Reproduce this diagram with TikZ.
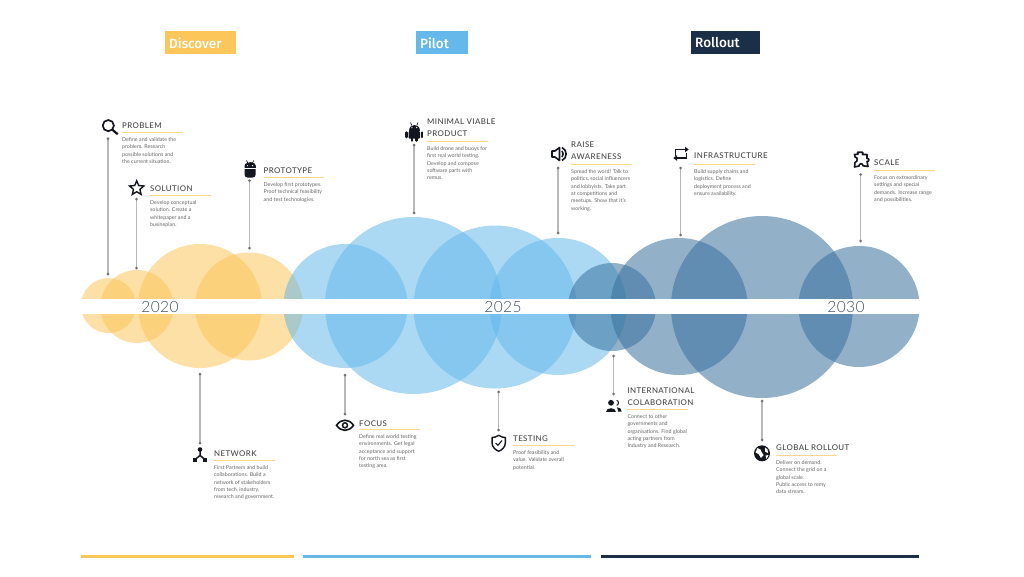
\documentclass[tikz,border=0pt]{standalone}
\usepackage{fontspec}
\usetikzlibrary{shapes.geometric}
\setmainfont{Lato}
\newfontfamily\headfont[LetterSpace=5]{Lato Medium}
\newfontfamily\yearfont[LetterSpace=3]{Lato Light}
\newfontfamily\badgefont{Fira Sans Medium}
\definecolor{ylw}{HTML}{FCC659}
\definecolor{blu}{HTML}{65B9EA}
\definecolor{drk}{HTML}{37709D}
\definecolor{navy}{HTML}{1C2F48}
\definecolor{ink}{HTML}{14161F}
\definecolor{uline}{HTML}{FCD98A}
\tikzset{
 bub/.style={fill=#1,fill opacity=.54},
 headtxt/.style={font=\headfont\fontsize{7.9}{11.6}\selectfont,text=black!72,anchor=south west,inner sep=0,align=left},
 bodytxt/.style={font=\fontsize{5.3}{7.4}\selectfont,text=black!60,anchor=north west,inner sep=0,align=left},
 rule/.style={draw=uline,line width=1.5pt},
 stem/.style={draw=black!28,line width=1.2pt},
 enddot/.style={circle,fill=black!55,minimum size=3pt,inner sep=0},
 yeartxt/.style={font=\yearfont\fontsize{15.5}{15.5}\selectfont,text=navy!85},
 ico/.style={draw=ink,line width=1.4pt,fill=none},
 badgetxt/.style={text=white,font=\badgefont\fontsize{13.5}{13.5}\selectfont,anchor=west,inner sep=0},
 bar/.style={line width=3pt},
}
\newcommand{\entry}[6]{% name, x, underline y, head gap, head, body
 \coordinate (#1ua) at (#2,#3); \coordinate (#1ub) at (#2+60.5,#3);
 \node[headtxt] (#1h) at (#2,#3-#4+7-3.2) {#5};
 \node[bodytxt] (#1b) at (#2,#3+4.6) {#6};
 \draw[rule] (#1ua) -- (#1ub);
}
\newcommand{\stemline}[4]{% name, x, y1, y2
 \draw[stem] (#2,#3) -- (#2,#4);
 \node[enddot] (#1s) at (#2,#3) {};
 \node[enddot] (#1e) at (#2,#4) {};
}
\begin{document}
\begin{tikzpicture}[x=1pt,y=-1pt]
\useasboundingbox (0,0) rectangle (1024,576);
\fill[white] (0,0) rectangle (1024,576);
% bubbles
\foreach \n/\cx/\cy/\r/\c in {
 y1/108.5/305.5/27.5/ylw, y2/137/306.5/36.5/ylw, y3/200/306/62/ylw, y4/249/306.5/54/ylw,
 b1/345.5/306/62/blu, b2/413.5/305.5/88.5/blu, b3/495/307/81.5/blu, b4/558/306.5/68.5/blu,
 d1/612/307/44/drk, d2/679/306.5/68.5/drk, d3/762/307/91/drk, d4/859/306.5/60.5/drk}{
 \fill[bub=\c] (\cx,\cy) circle (\r);
}
\fill[white] (0,299) rectangle (1024,314.3);
\fill[white] (919.3,200) rectangle (1024,400);
% years
\node[yeartxt] (y20) at (160,307) {2020};
\node[yeartxt] (y25) at (503,307) {2025};
\node[yeartxt] (y30) at (846,307) {2030};
% badges
\fill[ylw] (165,31) rectangle (236,54);
\fill[blu] (416,31) rectangle (468,54);
\fill[navy] (691,31) rectangle (760,54);
\node[badgetxt] (bd) at (169,43) {Discover};
\node[badgetxt] (bp) at (420,43) {Pilot};
\node[badgetxt] (br) at (695,43) {Rollout};
% bottom bars
\coordinate (ba1) at (81,556.5); \coordinate (ba2) at (294,556.5);
\coordinate (bb1) at (303,556.5); \coordinate (bb2) at (591,556.5);
\coordinate (bc1) at (601,556.5); \coordinate (bc2) at (919,556.5);
\draw[bar,draw=ylw] (ba1) -- (ba2);
\draw[bar,draw=blu] (bb1) -- (bb2);
\draw[bar,draw=navy] (bc1) -- (bc2);
% stems
\stemline{pb}{108}{138.5}{274}
\stemline{so}{136.5}{199}{268}
\stemline{pt}{249.5}{180.5}{248}
\stemline{mv}{414}{145}{213}
\stemline{ra}{558}{168}{233}
\stemline{in}{680.7}{168}{235}
\stemline{sc}{860.7}{174.5}{241}
\stemline{nw}{200}{374}{443}
\stemline{fo}{345}{375}{414}
\stemline{te}{498.7}{392}{430}
\stemline{ic}{613.7}{356}{394}
\stemline{gl}{762}{401}{440}
% texts
\entry{pb}{122}{132.5}{7.8}{PROBLEM}{Define and validate the\\problem. Research\\possible solutions and\\the current situation.}
\entry{so}{150}{195.5}{7.5}{SOLUTION}{Develop conceptual\\solution. Create a\\whitepaper and a\\busineplan.}
\entry{pt}{263.5}{177.5}{7.5}{PROTOTYPE}{Develop first prototypes.\\Proof technical feasibility\\and test technologies.}
\entry{mv}{427}{141.5}{8.5}{MINIMAL VIABLE\\PRODUCT}{Build drone and buoys for\\first real world testing.\\Develop and compose\\software parts with\\remus.}
\entry{ra}{571}{164.5}{8.5}{RAISE\\AWARENESS}{Spread the word! Talk to\\politics, social influencers\\and lobbyists. Take part\\at competitions and\\meetups. Show that it's\\working.}
\entry{in}{694}{164.5}{9.5}{INFRASTRUCTURE}{Build supply chains and\\logistics. Define\\deployment process and\\ensure availability.}
\entry{sc}{874}{170.5}{8.5}{SCALE}{Focus on extraordinary\\settings and special\\demands. Increase range\\and possibilities.}
\entry{nw}{214}{460.5}{7.5}{NETWORK}{First Partners and build\\collaborations. Build a\\network of stakeholders\\from tech, industry,\\research and government.}
\entry{fo}{359}{429.5}{6.8}{FOCUS}{Define real world testing\\environments. Get legal\\acceptance and support\\for north sea as first\\testing area.}
\entry{te}{513}{445.5}{7.5}{TESTING}{Proof feasibility and\\value. Validate overall\\potential.}
\entry{ic}{627.3}{409.5}{7.8}{INTERNATIONAL\\COLABORATION}{Connect to other\\governments and\\organisations. Find global\\acting partners from\\Industry and Research.}
\entry{gl}{776}{455.5}{8.5}{GLOBAL ROLLOUT}{Deliver on demand.\\Connect the grid on a\\global scale.\\Public access to remy\\data stream.}
% icons: magnifier
\draw[ico,line width=1.7pt] (108.3,125.6) circle (5.6);
\draw[ico,line width=2.2pt] (112.3,129.6) -- (117.7,134.3);
% star
\node[star,star points=5,star point ratio=2.2,draw=ink,line width=1.4pt,minimum size=15pt,inner sep=0] (istar) at (136.7,188.3) {};
% android head
\fill[ink,rounded corners=3pt] (244.5,163) rectangle (255.7,177.5);
\fill[ink] (244.5,168) .. controls (244.5,160) and (255.7,160) .. (255.7,168) -- cycle;
\draw[ink,line width=.7pt] (246.5,160.5) -- (248,163.5) (253.7,160.5) -- (252.2,163.5);
\draw[white,line width=.6pt] (244,168.6) -- (256.2,168.6);
\fill[white] (247.5,165.7) circle (.7) (252.7,165.7) circle (.7);
% android full
\fill[ink] (408.6,130.5) .. controls (408.6,123.2) and (420,123.2) .. (420,130.5) -- cycle;
\draw[ink,line width=.7pt] (410.5,122.5) -- (411.8,125.5) (418,122.5) -- (416.8,125.5);
\fill[white] (411.9,127.6) circle (.65) (416.7,127.6) circle (.65);
\fill[ink,rounded corners=1pt] (408.6,131.1) rectangle (420,138.7);
\draw[ink,line width=2.5pt,line cap=round] (406.4,132.5) -- (406.4,137) (422.2,132.5) -- (422.2,137) (412,138) -- (412,140.6) (416.6,138) -- (416.6,140.6);
% speaker
\draw[ico,line join=round,line width=1.6pt] (552,151) -- (555,151) -- (559.5,147.5) -- (559.5,160.5) -- (555,157) -- (552,157) -- cycle;
\draw[ico,line width=1.6pt] (562,151) .. controls (563.5,152.5) and (563.5,155.5) .. (562,157);
\draw[ico,line width=1.6pt] (562,147.5) .. controls (567.5,150) and (567.5,158) .. (562,160.5);
% repeat arrows
\draw[ico,line width=1.5pt] (675.5,155.5) -- (675.5,149.5) -- (686,149.5);
\fill[ink] (685,146.7) -- (688.7,149.5) -- (685,152.3) -- cycle;
\draw[ico,line width=1.5pt] (686.5,152.5) -- (686.5,158) -- (676,158);
\fill[ink] (677,155.2) -- (673.3,158) -- (677,160.8) -- cycle;
% puzzle
\draw[ico,line join=round,line width=1.6pt] (855,157) -- (854.5,154.5) -- (858,154.3) .. controls (856.5,151.5) and (858.5,152.2) .. (860,152.2) .. controls (862,152.2) and (863.5,151.5) .. (862.5,154.5) -- (867,154.5) -- (867,158.5) .. controls (869.5,157.5) and (869.5,162) .. (867,161.5) -- (868,166.5) -- (863,165.8) .. controls (863,163) and (859,163) .. (859,166) -- (854.5,167) -- (855,162.5) .. controls (858,161.5) and (858,157) .. (855,157) -- cycle;
% network
\draw[ink,line width=1.5pt] (200,450.5) -- (200,455.5) -- (195,459.5) (200,455.5) -- (205,459.5);
\fill[ink] (200,449.5) circle (2.3);
\fill[ink] (193,458) rectangle (197,462);
\fill[ink] (203,458) rectangle (207,462);
% eye
\draw[ico,line width=1.6pt] (336.5,425.3) .. controls (341,418.5) and (349,418.5) .. (353.5,425.3) .. controls (349,432) and (341,432) .. (336.5,425.3) -- cycle;
\draw[ico,line width=1.5pt] (345,425.3) circle (2.5);
% shield
\draw[ico,line join=round,line width=1.4pt] (498.7,435.3) .. controls (501,437) and (503.5,437.5) .. (505.3,437.5) -- (505.3,443) .. controls (505.3,447) and (502,450) .. (498.7,451.2) .. controls (495.4,450) and (492.1,447) .. (492.1,443) -- (492.1,437.5) .. controls (493.9,437.5) and (496.4,437) .. (498.7,435.3) -- cycle;
\draw[ink,line width=1.1pt] (495.6,443) -- (497.9,445.3) -- (502,440.5);
% people
\fill[ink] (611,402.8) circle (2.9);
\draw[ink,line width=1pt] (616.7,400.3) .. controls (619,400.8) and (619,404.8) .. (616.7,405.3);
\fill[ink] (605.5,411.7) .. controls (605.5,407) and (616,407) .. (616,411.7) -- cycle;
\fill[ink] (617,407.3) .. controls (620,407.3) and (621.7,409) .. (621.7,411.7) -- (618,411.7) .. controls (618,410) and (617.5,408.5) .. (617,407.3) -- cycle;
% globe
\fill[ink] (762,453.3) circle (8);
\fill[white] (757.5,448) .. controls (760,449) and (762,450) .. (761.5,452) -- (763.5,455) -- (761,458) -- (758.5,454) -- (755.5,452.5) -- cycle;
\fill[white] (765,447.5) -- (767.5,449.5) -- (768,453) -- (765,451.5) -- cycle;
\fill[white] (765.5,455.5) -- (768.5,455) -- (766.5,459) -- cycle;
\end{tikzpicture}
\end{document}
